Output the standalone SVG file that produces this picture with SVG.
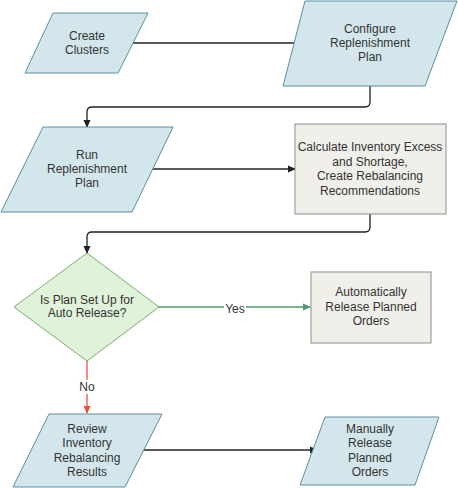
<svg xmlns="http://www.w3.org/2000/svg" width="458" height="488" viewBox="0 0 458 488">
<style>
.io{fill:#d3e6ec;stroke:#5b8fa2;stroke-width:1}
.box{fill:#f0efea;stroke:#8d8d8d;stroke-width:1}
.dec{fill:#e0f2d9;stroke:#7eaa70;stroke-width:1}
text{font-family:"Liberation Sans",Arial,sans-serif;font-size:12px;fill:#333;text-anchor:middle}
.c{fill:none;stroke:#222;stroke-width:1.3}
.cg{fill:none;stroke:#4f9a6b;stroke-width:1.3}
.cr{fill:none;stroke:#e5533c;stroke-width:1.3}
</style>
<defs>
<marker id="ak" markerWidth="8" markerHeight="8" refX="7" refY="4" orient="auto" markerUnits="userSpaceOnUse"><path d="M0,0.5 L8,4 L0,7.5 z" fill="#222"/></marker>
<marker id="ag" markerWidth="8" markerHeight="8" refX="7" refY="4" orient="auto" markerUnits="userSpaceOnUse"><path d="M0,0.5 L8,4 L0,7.5 z" fill="#4f9a6b"/></marker>
<marker id="ar" markerWidth="8" markerHeight="8" refX="7" refY="4" orient="auto" markerUnits="userSpaceOnUse"><path d="M0,0.5 L8,4 L0,7.5 z" fill="#e5533c"/></marker>
</defs>
<g id="connectors">
<path class="c" d="M133,43 H303" marker-end="url(#ak)"/>
<path class="c" d="M370,86 V102 Q370,107 365,107 H92 Q87,107 87,112 V127" marker-end="url(#ak)"/>
<path class="c" d="M152,169 H295" marker-end="url(#ak)"/>
<path class="c" d="M370,214 V227 Q370,232 365,232 H92 Q87,232 87,237 V253" marker-end="url(#ak)"/>
<path class="cg" d="M159,307 H310" marker-end="url(#ag)"/>
<path class="cr" d="M87,361 V413" marker-end="url(#ar)"/>
<path class="c" d="M143,450 H317" marker-end="url(#ak)"/>
<rect x="224" y="302" width="22" height="14" fill="#fff"/>
<text x="235" y="313">Yes</text>
<rect x="76" y="380" width="22" height="14" fill="#fff"/>
<text x="87" y="391">No</text>
</g>
<g id="create-clusters">
<polygon class="io" points="53,13 148,13 118,73 25,73"/>
<text x="87" y="40">Create</text>
<text x="87" y="54">Clusters</text>
</g>
<g id="configure-plan">
<polygon class="io" points="305,1 457,1 425,86 283,86"/>
<text x="370" y="33">Configure</text>
<text x="370" y="47">Replenishment</text>
<text x="370" y="61">Plan</text>
</g>
<g id="run-plan">
<polygon class="io" points="43,127 173,127 132,212 1,212"/>
<text x="87" y="159">Run</text>
<text x="87" y="173">Replenishment</text>
<text x="87" y="187">Plan</text>
</g>
<g id="calculate">
<rect class="box" x="295" y="124" width="151" height="90"/>
<text x="370" y="151">Calculate Inventory Excess</text>
<text x="370" y="166">and Shortage,</text>
<text x="370" y="180">Create Rebalancing</text>
<text x="370" y="195">Recommendations</text>
</g>
<g id="decision">
<polygon class="dec" points="87,253 159,307 87,361 14,307"/>
<text x="87" y="304">Is Plan Set Up for</text>
<text x="87" y="317">Auto Release?</text>
</g>
<g id="auto-release">
<rect class="box" x="311" y="272" width="120" height="71"/>
<text x="371" y="296">Automatically</text>
<text x="371" y="311">Release Planned</text>
<text x="371" y="325">Orders</text>
</g>
<g id="review">
<polygon class="io" points="49,414 162,414 125,487 13,487"/>
<text x="87" y="433">Review</text>
<text x="87" y="447">Inventory</text>
<text x="87" y="462">Rebalancing</text>
<text x="87" y="476">Results</text>
</g>
<g id="manual-release">
<polygon class="io" points="325,417 439,417 415,485 300,485"/>
<text x="370" y="433">Manually</text>
<text x="370" y="447">Release</text>
<text x="370" y="462">Planned</text>
<text x="370" y="476">Orders</text>
</g>
</svg>
